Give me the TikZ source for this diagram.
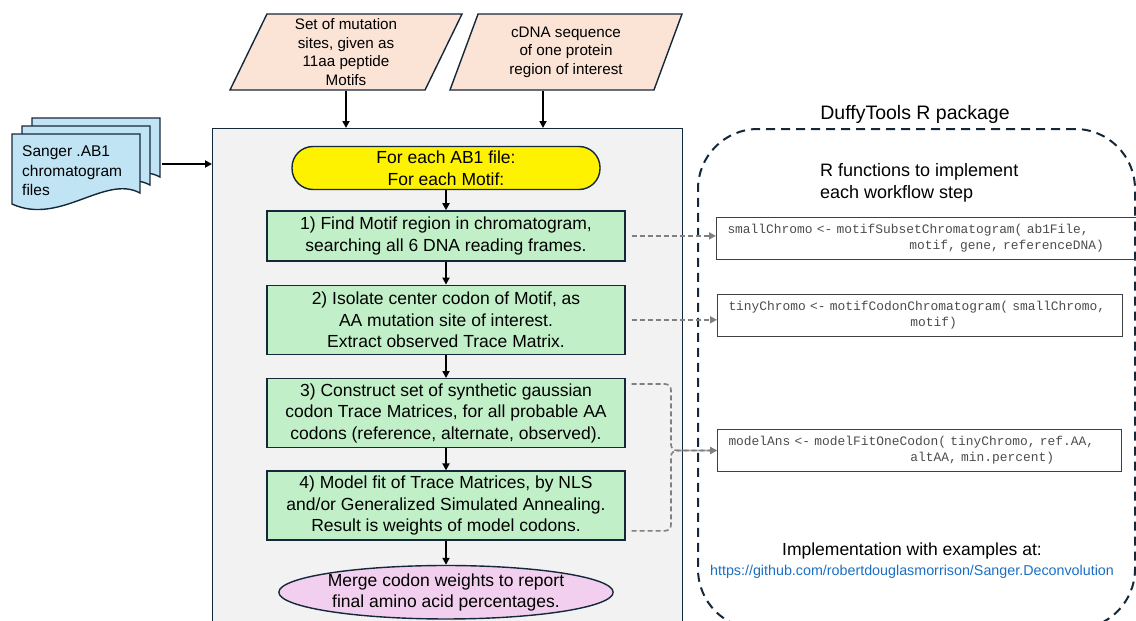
\documentclass[tikz,border=0pt]{standalone}
\usepackage{fontspec}
\setmainfont{Liberation Sans}
\setmonofont{Liberation Mono}
\usepackage{xcolor}
\usetikzlibrary{arrows.meta, positioning, shapes.geometric}

\definecolor{navy}{HTML}{15283A}
\definecolor{peach}{HTML}{FBE3D6}
\definecolor{docblue}{HTML}{C1E4F5}
\definecolor{stepgreen}{HTML}{C1F0C8}
\definecolor{mergepink}{HTML}{F2CFEE}
\definecolor{panel}{HTML}{F2F2F2}
\definecolor{urlblue}{HTML}{1A6FC4}

\begin{document}
\begin{tikzpicture}[
  x=1pt, y=-1pt,
  font=\fontsize{17.5}{21.5}\selectfont,
  flowbox/.style={draw=navy, line width=1.4pt, fill=stepgreen, align=center, minimum width=358pt, minimum height=69pt, inner sep=2pt},
  inbox/.style={trapezium, trapezium left angle=61, trapezium right angle=119, trapezium stretches body, draw=navy, line width=1.4pt, fill=peach, align=center, minimum width=232pt, minimum height=76pt, inner sep=0pt, font=\fontsize{15.2}{18.5}\selectfont},
  docpage/.style={draw=navy, line width=1.4pt, fill=docblue},
  code/.style={draw=black!75, line width=1pt, anchor=north west, align=left, font=\ttfamily\fontsize{12.9}{16}\selectfont, text=black!70, inner xsep=11pt, minimum height=42pt},
  arr/.style={-{Triangle[length=7pt,width=7pt]}, line width=1.8pt},
  dep/.style={-{Triangle[length=7pt,width=7pt]}, black!50, dash pattern=on 5pt off 3pt, line width=1.6pt, rounded corners=6pt}
]
\useasboundingbox (0,0) rectangle (1136,621);

% input files (stacked pages)
\foreach \d in {2,1,0} {
  \draw[docpage, shift={(10*\d,-8*\d)}] (12,134) -- (140,134) -- (140,193)
    .. controls (105,174) and (60,226) .. (12,204) -- cycle;
}
\node[anchor=west, align=left, inner sep=0pt, font=\fontsize{15.5}{19.5}\selectfont] (ab1) at (22,171) {Sanger .AB1\\chromatogram\\files};
\coordinate (docR) at (162,164);

% workflow panel
\node[draw=navy, line width=1.4pt, fill=panel, minimum width=470pt, minimum height=530pt, anchor=north west] (flow) at (212,128) {};

% inputs on top
\node[inbox] (motifs) at (346,52) {Set of mutation\\sites, given as\\11aa peptide\\Motifs};
\node[inbox] (cdna) at (566,52) {cDNA sequence\\of one protein\\region of interest};

% workflow steps
\node[draw=navy, line width=1.4pt, fill=yellow, rounded corners=21pt, minimum width=308pt, minimum height=43pt, align=center, inner sep=2pt] (start) at (446,168) {For each AB1 file:\\For each Motif:};
\node[flowbox, minimum height=50pt, below=20pt of start] (b1) {1) Find Motif region in chromatogram,\\searching all 6 DNA reading frames.};
\node[flowbox, below=23pt of b1] (b2) {2) Isolate center codon of Motif, as\\AA mutation site of interest.\\Extract observed Trace Matrix.};
\node[flowbox, below=23pt of b2] (b3) {3) Construct set of synthetic gaussian\\codon Trace Matrices, for all probable AA\\codons (reference, alternate, observed).};
\node[flowbox, below=22pt of b3] (b4) {4) Model fit of Trace Matrices, by NLS\\and/or Generalized Simulated Annealing.\\Result is weights of model codons.};
\node[ellipse, draw=navy, line width=1.4pt, fill=mergepink, minimum width=310pt, minimum height=51pt, align=center, inner sep=0pt, below=24pt of b4] (merge) {Merge codon weights to report\\final amino acid percentages.};

\draw[arr] (docR) -- (docR -| flow.west);
\draw[arr] (motifs.south) -- (motifs.south |- flow.north);
\draw[arr] ([xshift=-23pt]cdna.south) -- ([xshift=-23pt]cdna.south |- flow.north);
\foreach \a/\b in {start/b1, b1/b2, b2/b3, b3/b4, b4/merge}
  \draw[arr] (\a) -- (\b);

% DuffyTools side
\node[font=\fontsize{19.5}{23}\selectfont] (pkg) at (915,114) {DuffyTools R package};
\node[draw=navy, line width=2pt, dash pattern=on 9pt off 6pt, rounded corners=60pt, minimum width=437pt, minimum height=500pt, anchor=north west] (pkgbox) at (697,128) {};
\node[anchor=north west, align=left, inner sep=0pt, font=\fontsize{18}{22}\selectfont] (rfun) at (820,163) {R functions to implement\\each workflow step};

\node[code, text width=398pt] (cb1) at (716,217) {\mbox{smallChromo <- motifSubsetChromatogram( ab1File,}\\\hspace*{14.1em}motif, gene, referenceDNA)};
\node[code, text width=383pt] (cb2) at (717,294) {\mbox{tinyChromo <- motifCodonChromatogram( smallChromo,}\\\hspace*{14.1em}motif)};
\node[code, text width=382pt] (cb3) at (717,429) {\mbox{modelAns <- modelFitOneCodon( tinyChromo, ref.AA,}\\\hspace*{14.1em}altAA, min.percent)};

\draw[dep, shorten <=6pt] (b1.east) -- (b1.east -| cb1.west);
\draw[dep, shorten <=6pt] (b2.east) -- (b2.east -| cb2.west);
\draw[dep] ([xshift=6pt,yshift=-6pt]b3.north east) -| ([xshift=-46pt]cb3.west) -- (cb3.west);
\draw[dep] ([xshift=6pt,yshift=10pt]b4.south east) -| ([xshift=-46pt]cb3.west) -- (cb3.west);

\node (impl) at (912,551) {Implementation with examples at:};
\node[font=\fontsize{14.3}{16}\selectfont, text=urlblue, below=2pt of impl, inner sep=0pt] (url) {https://github.com/robertdouglasmorrison/Sanger.Deconvolution};
\end{tikzpicture}
\end{document}
